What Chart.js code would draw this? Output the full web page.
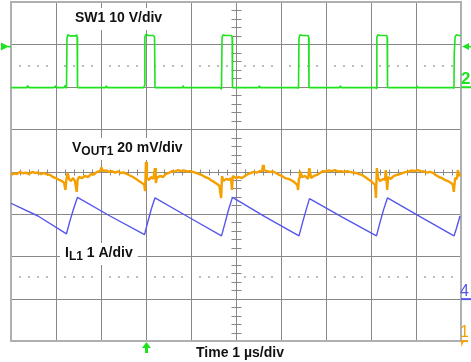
<!DOCTYPE html>
<html>
<head>
<meta charset="utf-8">
<script src="https://cdn.jsdelivr.net/npm/chart.js@4/dist/chart.umd.min.js"></script>
<style>
    html, body { margin: 0; padding: 0; background: #ffffff; }
    canvas { display: block; }
</style>
</head>
<body>
<canvas id="scope" width="471" height="362"></canvas>
<script>
// Time axis: 10 divisions of 1 us, vertical: 8 divisions
const TIME_DIVS = 10;
const VERT_DIVS = 8;

// Channel settings (units per division, ground offset in divisions)
const CH_SW1 = { perDiv: 10, offset: 2 };     // V
const CH_VOUT = { perDiv: 20, offset: 0 };    // mV
const CH_IL = { perDiv: 1, offset: -3 };      // A

const TRIGGER_TIME = 3;      // us
const TRIGGER_LEVEL = 9.5;   // V on SW1

// SW1 switch node [time us, volts]
const sw1Trace = [
    [0.00, -0.2], [0.35, -0.2], [0.37, 0.25], [0.40, -0.2], [0.95, -0.2], [1.00, 0.2], [1.03, -0.2],
    [1.18, -0.2], [1.20, 0.3], [1.22, -0.3], [1.233, -0.2], [1.245, 11.6], [1.27, 12.3], [1.30, 12.0],
    [1.44, 12.0], [1.46, 12.3], [1.47, 11.8], [1.478, -0.2],
    [2.10, -0.2], [2.12, 0.2], [2.14, -0.2], [2.95, -0.2], [2.967, 0.3], [2.975, 11.8], [3.00, 12.4],
    [3.05, 12.1], [3.17, 12.1], [3.19, 11.6], [3.20, -0.2],
    [3.80, -0.2], [3.82, 0.3], [3.84, -0.2], [4.65, -0.2], [4.668, -0.5], [4.678, -0.2], [4.69, 11.7],
    [4.72, 12.3], [4.76, 12.1], [4.90, 12.1], [4.915, 11.6], [4.922, -0.2],
    [5.50, -0.2], [5.52, 0.2], [5.54, -0.2], [6.37, -0.2], [6.389, -0.4], [6.40, 11.6], [6.43, 12.3],
    [6.47, 12.1], [6.60, 12.1], [6.615, 11.6], [6.622, -0.2],
    [7.30, -0.2], [7.32, 0.2], [7.34, -0.2], [8.10, -0.2], [8.122, -0.4], [8.13, 11.7], [8.16, 12.3],
    [8.20, 12.1], [8.35, 12.1], [8.36, 11.6], [8.367, -0.2],
    [9.00, -0.2], [9.02, 0.2], [9.04, -0.2], [9.83, -0.2], [9.844, -0.4], [9.85, 8.0], [9.87, 11.8],
    [9.90, 12.3], [9.95, 12.1], [10.0, 12.1]
];

// VOUT1 ripple, AC coupled [time us, mV]
const voutTrace = [
    [0.00, -1.6], [0.07, -0.9], [0.13, -1.2], [0.20, -0.2], [0.27, -0.9], [0.33, -0.5], [0.40, -1.2],
    [0.47, -0.2], [0.53, -0.7], [0.60, -0.5], [0.67, -1.2], [0.73, -0.7], [0.80, -1.4], [0.87, -1.6],
    [0.93, -2.6], [1.00, -3.1], [1.07, -4.0], [1.13, -4.5], [1.18, -5.4], [1.21, -8.7], [1.23, -4.0],
    [1.26, -0.7], [1.29, -3.5], [1.33, -4.5], [1.38, -3.1], [1.42, -4.5], [1.46, -9.6], [1.48, -4.0],
    [1.51, -2.6], [1.58, -3.1], [1.64, -2.1], [1.71, -2.6], [1.78, -1.2], [1.84, -1.4], [1.91, -0.2],
    [1.98, 0.2], [2.01, 1.9], [2.04, 0.2], [2.11, 0.5], [2.18, -0.2], [2.24, 0.2], [2.31, -0.5],
    [2.38, 0.0], [2.44, -0.7], [2.51, -0.5], [2.58, -1.2], [2.64, -1.9], [2.71, -2.6], [2.78, -3.5],
    [2.84, -4.5], [2.91, -5.4], [2.96, -6.3], [2.98, -9.2], [3.00, 4.5], [3.02, -3.1], [3.07, -4.0],
    [3.11, -2.6], [3.16, -3.5], [3.20, 1.6], [3.22, -5.4], [3.24, -3.1], [3.31, -2.1], [3.38, -2.6],
    [3.44, -1.2], [3.51, -0.7], [3.58, 0.2], [3.64, 0.0], [3.71, 0.7], [3.78, 0.2], [3.84, 0.5],
    [3.91, 0.0], [3.98, 0.2], [4.04, -0.2], [4.11, -0.7], [4.18, -1.2], [4.24, -1.6], [4.31, -2.6],
    [4.38, -3.1], [4.44, -4.0], [4.51, -4.9], [4.58, -5.9], [4.63, -6.8], [4.67, -12.5], [4.69, -2.1],
    [4.72, -4.5], [4.78, -3.5], [4.84, -4.0], [4.89, -3.1], [4.91, -8.7], [4.93, -2.1], [5.00, -3.1],
    [5.07, -2.6], [5.13, -3.1], [5.20, -2.1], [5.27, -1.2], [5.33, -0.7], [5.40, -0.2], [5.47, -0.5],
    [5.53, 0.2], [5.58, 0.2], [5.60, 3.1], [5.62, 0.7], [5.69, 0.2], [5.76, -0.2], [5.82, 0.0],
    [5.89, -0.7], [5.96, -1.6], [6.02, -2.1], [6.09, -3.1], [6.16, -3.5], [6.22, -4.0], [6.29, -4.9],
    [6.36, -6.3], [6.38, -8.7], [6.40, -3.1], [6.42, 0.2], [6.47, -2.6], [6.53, -2.1], [6.60, -3.5],
    [6.63, 1.6], [6.67, -3.1], [6.73, -2.1], [6.80, -1.6], [6.87, -0.7], [6.93, 0.2], [7.00, 0.0],
    [7.07, 0.5], [7.13, 0.2], [7.20, 0.7], [7.27, 0.0], [7.33, 0.2], [7.40, -0.2], [7.47, 0.2],
    [7.53, -0.2], [7.60, -0.5], [7.67, -0.7], [7.73, -1.2], [7.80, -1.6], [7.87, -2.6], [7.93, -3.5],
    [8.00, -4.5], [8.04, -5.4], [8.09, -6.3], [8.11, -12.5], [8.13, 1.6], [8.16, -3.1], [8.20, -4.5],
    [8.27, -3.5], [8.31, -4.0], [8.33, 0.7], [8.36, -8.7], [8.38, -2.6], [8.44, -3.5], [8.51, -2.1],
    [8.58, -1.6], [8.64, -1.2], [8.71, -0.7], [8.78, -0.2], [8.84, 0.0], [8.91, 0.5], [8.98, 0.2],
    [9.04, 0.7], [9.11, 0.2], [9.18, 0.0], [9.24, -0.5], [9.31, -0.2], [9.38, -0.7], [9.44, -1.6],
    [9.51, -2.6], [9.58, -3.1], [9.64, -4.0], [9.71, -4.5], [9.78, -5.4], [9.82, -6.3], [9.84, -9.6],
    [9.87, -3.1], [9.91, -3.5], [9.93, 0.7], [9.96, -2.1], [10.0, -1.2]
];

// IL1 inductor current [time us, amps]
const ilTrace = [
    [0.00, 2.25], [0.60, 1.95], [1.233, 1.53], [1.30, 1.80], [1.40, 2.15], [1.478, 2.39],
    [2.20, 1.95], [2.967, 1.51], [3.05, 1.85], [3.12, 2.12], [3.20, 2.38],
    [3.95, 1.92], [4.678, 1.48], [4.76, 1.80], [4.84, 2.12], [4.922, 2.39],
    [5.65, 1.93], [6.40, 1.48], [6.48, 1.80], [6.56, 2.10], [6.633, 2.36],
    [7.35, 1.93], [8.122, 1.48], [8.20, 1.80], [8.28, 2.10], [8.367, 2.38],
    [9.10, 1.93], [9.844, 1.48], [9.90, 1.66], [9.978, 1.95]
];

const GREEN = '#1ee41e';
const ORANGE = '#f5a000';
const BLUE = '#5656ec';
const FONT = '"Liberation Sans", Arial, sans-serif';


function toDivs(trace, ch) {
    return trace.map(([t, v]) => ({ x: t, y: ch.offset + v / ch.perDiv }));
}


// Scope graticule: major grid, center ticks, dotted rows
const graticule = {
    id: 'graticule',
    beforeDatasetsDraw(chart) {
        const { ctx, chartArea: a, scales: { x, y } } = chart;
        ctx.save();

        // dotted rows at +/- 2.5 div
        ctx.fillStyle = '#bcbcbc';
        for (const row of [2.5, -2.5]) {
            const py = Math.round(y.getPixelForValue(row));
            for (let k = 1; k < TIME_DIVS * 5; k++) {
                if (k % 5 === 0) continue;
                const px = Math.round(x.getPixelForValue(k / 5));
                ctx.fillRect(px - 1, py - 1, 2, 2);
            }
        }

        // major lines
        ctx.strokeStyle = '#888888';
        ctx.lineWidth = 1;
        ctx.beginPath();
        for (let i = 1; i < TIME_DIVS; i++) {
            const px = Math.round(x.getPixelForValue(i)) + 0.5;
            ctx.moveTo(px, a.top);
            ctx.lineTo(px, a.bottom);
        }
        for (let j = -VERT_DIVS / 2 + 1; j < VERT_DIVS / 2; j++) {
            const py = Math.round(y.getPixelForValue(j)) + 0.5;
            ctx.moveTo(a.left, py);
            ctx.lineTo(a.right, py);
        }
        ctx.stroke();

        // center axis minor ticks
        const cx = Math.round(x.getPixelForValue(TIME_DIVS / 2)) + 0.5;
        const cy = Math.round(y.getPixelForValue(0)) + 0.5;
        ctx.beginPath();
        for (let k = -VERT_DIVS * 5 / 2 + 1; k < VERT_DIVS * 5 / 2; k++) {
            if (k % 5 === 0) continue;
            const py = Math.round(y.getPixelForValue(k / 5)) + 0.5;
            ctx.moveTo(cx - 5, py);
            ctx.lineTo(cx + 5, py);
        }
        for (let k = 1; k < TIME_DIVS * 5; k++) {
            if (k % 5 === 0) continue;
            const px = Math.round(x.getPixelForValue(k / 5)) + 0.5;
            ctx.moveTo(px, cy - 3);
            ctx.lineTo(px, cy + 3);
        }
        ctx.stroke();

        // outer frame
        ctx.strokeStyle = '#b0b0b0';
        ctx.lineWidth = 2;
        ctx.strokeRect(a.left, a.top, a.right - a.left, a.bottom - a.top);
        ctx.restore();
    }
};


function drawLabel(ctx, x0, base, main, sub, rest) {
    ctx.font = `bold 14px ${FONT}`;
    let w = ctx.measureText(main).width;
    let subW = 0;
    if (sub) {
        ctx.font = `bold 12px ${FONT}`;
        subW = ctx.measureText(sub).width;
    }
    ctx.font = `bold 14px ${FONT}`;
    const restW = rest ? ctx.measureText(rest).width : 0;

    ctx.fillStyle = '#ffffff';
    ctx.fillRect(x0 - 5, base - 14, w + subW + restW + 10, 22);

    ctx.fillStyle = '#111111';
    ctx.textBaseline = 'alphabetic';
    ctx.textAlign = 'left';
    ctx.fillText(main, x0, base);
    if (sub) {
        ctx.font = `bold 12px ${FONT}`;
        ctx.fillText(sub, x0 + w, base + 3);
    }
    if (rest) {
        ctx.font = `bold 14px ${FONT}`;
        ctx.fillText(rest, x0 + w + subW, base);
    }
}


// Channel labels, markers and time base
const annotations = {
    id: 'annotations',
    afterDatasetsDraw(chart) {
        const { ctx, chartArea: a, scales: { x, y } } = chart;
        ctx.save();

        drawLabel(ctx, 75, 22, 'SW1 10 V/div', '', '');
        drawLabel(ctx, 72, 152, 'V', 'OUT1', ' 20 mV/div');
        drawLabel(ctx, 65, 257, 'I', 'L1', ' 1 A/div');

        ctx.font = `bold 14px ${FONT}`;
        ctx.fillStyle = '#111111';
        ctx.textAlign = 'center';
        ctx.fillText('Time 1 \u00b5s/div', 240, 357);

        // trigger level markers
        const ty = y.getPixelForValue(CH_SW1.offset + TRIGGER_LEVEL / CH_SW1.perDiv);
        ctx.fillStyle = GREEN;
        ctx.beginPath();
        ctx.moveTo(1, ty - 4);
        ctx.lineTo(1, ty + 4);
        ctx.lineTo(9, ty);
        ctx.closePath();
        ctx.fill();
        ctx.fillRect(8, ty - 0.5, 3, 1.5);

        ctx.beginPath();
        ctx.moveTo(462, ty);
        ctx.lineTo(469, ty - 3.5);
        ctx.lineTo(469, ty + 3.5);
        ctx.closePath();
        ctx.fill();
        ctx.fillRect(468, ty - 0.5, 3, 1.5);

        // trigger position arrow
        const tx = Math.round(x.getPixelForValue(TRIGGER_TIME)) + 0.5;
        ctx.beginPath();
        ctx.moveTo(tx, a.bottom + 1);
        ctx.lineTo(tx - 4.5, a.bottom + 7);
        ctx.lineTo(tx + 4.5, a.bottom + 7);
        ctx.closePath();
        ctx.fill();
        ctx.fillRect(tx - 1.5, a.bottom + 6, 3, 6);

        // channel ground markers
        ctx.textAlign = 'left';
        ctx.font = `bold 17px ${FONT}`;
        const g2 = y.getPixelForValue(CH_SW1.offset);
        ctx.fillStyle = GREEN;
        ctx.fillText('2', 461, g2 - 3);
        ctx.fillRect(461, g2 - 0.5, 10, 2);

        const g4 = y.getPixelForValue(CH_IL.offset);
        ctx.fillStyle = BLUE;
        ctx.font = `16px ${FONT}`;
        ctx.fillText('4', 460, g4 - 3);
        ctx.fillRect(461, g4 - 0.5, 10, 2);

        ctx.fillStyle = ORANGE;
        ctx.fillText('1', 460, a.bottom - 4);
        ctx.fillRect(461, a.bottom - 1, 7, 2);
        ctx.beginPath();
        ctx.moveTo(461, a.bottom);
        ctx.lineTo(464, a.bottom);
        ctx.lineTo(461.5, a.bottom + 6);
        ctx.closePath();
        ctx.fill();

        ctx.restore();
    }
};


const scopeChart = new Chart(
    document.getElementById('scope').getContext('2d'),
    {
        type: 'line',
        data: {
            datasets: [
                {
                    label: 'SW1',
                    data: toDivs(sw1Trace, CH_SW1),
                    borderColor: GREEN,
                    borderWidth: 1.6
                },
                {
                    label: 'VOUT1',
                    data: toDivs(voutTrace, CH_VOUT),
                    borderColor: ORANGE,
                    borderWidth: 2.4
                },
                {
                    label: 'IL1',
                    data: toDivs(ilTrace, CH_IL),
                    borderColor: BLUE,
                    borderWidth: 1.4
                }
            ]
        },
        options: {
            responsive: false,
            animation: false,
            layout: { padding: { left: 11, right: 10, top: 2, bottom: 21 } },
            elements: {
                point: { radius: 0 },
                line: { tension: 0, fill: false, borderJoinStyle: 'bevel' }
            },
            scales: {
                x: { type: 'linear', min: 0, max: TIME_DIVS, display: false },
                y: { type: 'linear', min: -VERT_DIVS / 2, max: VERT_DIVS / 2, display: false }
            },
            plugins: {
                legend: { display: false },
                tooltip: { enabled: false }
            }
        },
        plugins: [graticule, annotations]
    }
);
</script>
</body>
</html>
